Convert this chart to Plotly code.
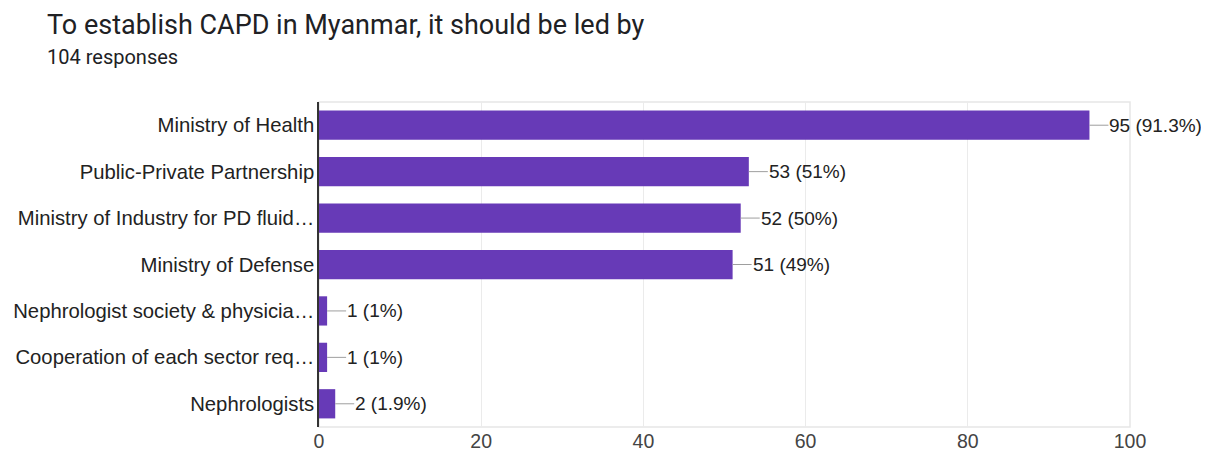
import plotly.graph_objects as go

categories = [
    "Ministry of Health",
    "Public-Private Partnership",
    "Ministry of Industry for PD fluid…",
    "Ministry of Defense",
    "Nephrologist society & physicia…",
    "Cooperation of each sector req…",
    "Nephrologists",
]
counts = [95, 53, 52, 51, 1, 1, 2]
percents = ["91.3%", "51%", "50%", "49%", "1%", "1%", "1.9%"]
tick_vals = [0, 20, 40, 60, 80, 100]

title_text = "To establish CAPD in Myanmar, it should be led by"
subtitle_text = "104 responses"

BAR = "#673ab7"
OFF = 8  # page body margin
W, H = 1209 - OFF, 455 - OFF
L, T = 319 - OFF, 102 - OFF
R = 1209 - 1130
B = 455 - 427
PW, PH = W - L - R, H - T - B

FONT = "Liberation Sans, Arial, sans-serif"

fig = go.Figure(
    go.Bar(
        x=counts,
        y=categories,
        orientation="h",
        marker=dict(color=BAR, line=dict(width=0)),
        width=0.63,
        hoverinfo="skip",
    )
)

shapes = [
    dict(type="rect", xref="paper", yref="paper", x0=0, x1=1, y0=0, y1=1,
         line=dict(color="#e6e6e6", width=1.5), layer="below"),
]
annotations = []
for c, v, p in zip(categories, counts, percents):
    shapes.append(dict(type="line", xref="x", yref="y", xsizemode="pixel",
                       xanchor=v, x0=0, x1=19, y0=c, y1=c,
                       line=dict(color="#9e9e9e", width=1)))
    annotations.append(dict(x=v, y=c, xref="x", yref="y", text=f"{v} ({p})",
                            showarrow=False, xanchor="left", xshift=18,
                            font=dict(family=FONT, size=19, color="#222222")))


def px_x(x):
    return (x - OFF - L) / PW


def px_y(y):
    return 1 - (y - OFF - T) / PH


annotations.append(dict(xref="paper", yref="paper", x=px_x(45), y=px_y(25),
                        text=title_text, showarrow=False, xanchor="left", yanchor="middle",
                        font=dict(family="Roboto", size=27, color="#202124")))
annotations.append(dict(xref="paper", yref="paper", x=px_x(45), y=px_y(57),
                        text=subtitle_text, showarrow=False, xanchor="left", yanchor="middle",
                        font=dict(family="Roboto", size=20, color="#202124")))

fig.update_layout(
    width=W, height=H,
    margin=dict(l=L, r=R, t=T, b=B, pad=0, autoexpand=False),
    paper_bgcolor="white", plot_bgcolor="white",
    showlegend=False,
    shapes=shapes,
    annotations=annotations,
    xaxis=dict(range=[0, 100], tickvals=tick_vals, showgrid=True, gridcolor="#ebebeb", gridwidth=1,
               zeroline=False, showline=False, ticks="",
               tickfont=dict(family=FONT, size=19.5, color="#444444"),
               automargin=False, fixedrange=True),
    yaxis=dict(categoryorder="array", categoryarray=categories, autorange="reversed",
               showgrid=False, zeroline=False, showline=True, linecolor="#333333", linewidth=1.5,
               ticks="", ticklabelstandoff=-1, tickfont=dict(family=FONT, size=20.3, color="#222222"),
               automargin=False, fixedrange=True),
)

fig.write_html("out.html")
